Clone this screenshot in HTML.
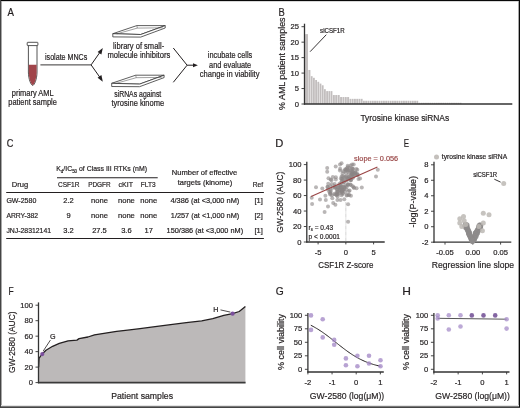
<!DOCTYPE html>
<html><head><meta charset="utf-8"><style>
html,body{margin:0;padding:0;background:#fff;}
body{width:520px;height:408px;overflow:hidden;position:relative;}
svg{position:absolute;left:0;top:0;will-change:transform;}
text{font-family:"Liberation Sans", sans-serif;}
</style></head><body>
<svg width="520" height="408" viewBox="0 0 520 408">
<path d="M28.4,45.6 L28.4,72 C28.4,79.5 31.2,85.4 32.7,85.4 C34.2,85.4 37.0,79.5 37.0,72 L37.0,45.6" fill="#fff" stroke="#2a2a2a" stroke-width="0.8"/>
<path d="M28.8,64.7 L28.8,72 C28.8,79.3 31.4,84.9 32.7,84.9 C34.0,84.9 36.6,79.3 36.6,72 L36.6,64.7 Z" fill="#a0444a" stroke="none" stroke-width="0.8"/>
<rect x="27.2" y="42.3" width="10.7" height="3.3" rx="0.6" fill="#fff" stroke="#2a2a2a" stroke-width="0.8"/>
<line x1="40.40" y1="64.90" x2="91.10" y2="64.90" stroke="#231f20" stroke-width="0.9"/>
<line x1="91.10" y1="64.90" x2="100.50" y2="51.50" stroke="#231f20" stroke-width="1.0"/>
<line x1="91.10" y1="64.90" x2="100.50" y2="78.20" stroke="#231f20" stroke-width="1.0"/>
<path d="M102.8,48 L97.6,51.9 L101.4,54.6 Z" fill="#231f20" stroke="none" stroke-width="0.8"/>
<path d="M102.8,81.7 L97.6,77.8 L101.4,75.1 Z" fill="#231f20" stroke="none" stroke-width="0.8"/>
<text x="45.00" y="59.90" font-size="8.4" textLength="42.30" lengthAdjust="spacingAndGlyphs" fill="#231f20" stroke="#231f20" stroke-width="0.2">isolate MNCs</text>
<text x="11.80" y="95.60" font-size="8.4" textLength="41.80" lengthAdjust="spacingAndGlyphs" fill="#231f20" stroke="#231f20" stroke-width="0.2">primary AML</text>
<text x="8.30" y="104.90" font-size="8.4" textLength="48.60" lengthAdjust="spacingAndGlyphs" fill="#231f20" stroke="#231f20" stroke-width="0.2">patient sample</text>
<path d="M112.8,33.7 L136.8,25.6 L165.2,25.6 L140.7,34.5 Z" fill="#fff" stroke="#2a2a2a" stroke-width="0.75"/>
<path d="M112.8,33.7 L112.8,36.900000000000006 L140.7,37.1 L165.2,28.0 L165.2,25.6 L140.7,34.5 Z" fill="#fff" stroke="#2a2a2a" stroke-width="0.75"/>
<path d="M116.7,33.900000000000006 L137.3,28.1 L162.7,27.8" fill="none" stroke="#444" stroke-width="0.5"/>
<line x1="136.80" y1="25.60" x2="137.30" y2="28.10" stroke="#444" stroke-width="0.5"/>
<path d="M111.7,83.3 L135.7,75.2 L164.1,75.2 L139.6,84.1 Z" fill="#fff" stroke="#2a2a2a" stroke-width="0.75"/>
<path d="M111.7,83.3 L111.7,86.5 L139.6,86.7 L164.1,77.60000000000001 L164.1,75.2 L139.6,84.1 Z" fill="#fff" stroke="#2a2a2a" stroke-width="0.75"/>
<path d="M115.60000000000001,83.5 L136.2,77.7 L161.6,77.4" fill="none" stroke="#444" stroke-width="0.5"/>
<line x1="135.70" y1="75.20" x2="136.20" y2="77.70" stroke="#444" stroke-width="0.5"/>
<text x="113.10" y="48.90" font-size="8.4" textLength="51.10" lengthAdjust="spacingAndGlyphs" fill="#231f20" stroke="#231f20" stroke-width="0.2">library of small-</text>
<text x="107.40" y="57.60" font-size="8.4" textLength="62.90" lengthAdjust="spacingAndGlyphs" fill="#231f20" stroke="#231f20" stroke-width="0.2">molecule inhibitors</text>
<text x="114.20" y="96.60" font-size="8.4" textLength="47.10" lengthAdjust="spacingAndGlyphs" fill="#231f20" stroke="#231f20" stroke-width="0.2">siRNAs against</text>
<text x="111.50" y="105.60" font-size="8.4" textLength="52.70" lengthAdjust="spacingAndGlyphs" fill="#231f20" stroke="#231f20" stroke-width="0.2">tyrosine kinome</text>
<line x1="173.30" y1="48.00" x2="187.10" y2="65.20" stroke="#231f20" stroke-width="1.0"/>
<line x1="173.30" y1="82.30" x2="187.10" y2="65.20" stroke="#231f20" stroke-width="1.0"/>
<line x1="187.10" y1="65.20" x2="193.50" y2="65.20" stroke="#231f20" stroke-width="1.0"/>
<path d="M197.9,65.2 L193.0,63.2 L193.0,67.2 Z" fill="#231f20" stroke="none" stroke-width="0.8"/>
<text x="207.80" y="57.80" font-size="8.4" textLength="44.40" lengthAdjust="spacingAndGlyphs" fill="#231f20" stroke="#231f20" stroke-width="0.2">incubate cells</text>
<text x="209.10" y="67.50" font-size="8.4" textLength="42.10" lengthAdjust="spacingAndGlyphs" fill="#231f20" stroke="#231f20" stroke-width="0.2">and evaluate</text>
<text x="199.80" y="77.40" font-size="8.4" textLength="59.70" lengthAdjust="spacingAndGlyphs" fill="#231f20" stroke="#231f20" stroke-width="0.2">change in viability</text>
<line x1="301.50" y1="104.00" x2="304.50" y2="104.00" stroke="#333333" stroke-width="0.9"/>
<text x="298.90" y="106.50" font-size="7.6" text-anchor="end" fill="#231f20" stroke="#231f20" stroke-width="0.2">0</text>
<line x1="301.50" y1="88.54" x2="304.50" y2="88.54" stroke="#333333" stroke-width="0.9"/>
<text x="298.90" y="91.04" font-size="7.6" text-anchor="end" fill="#231f20" stroke="#231f20" stroke-width="0.2">5</text>
<line x1="301.50" y1="73.08" x2="304.50" y2="73.08" stroke="#333333" stroke-width="0.9"/>
<text x="298.90" y="75.58" font-size="7.6" text-anchor="end" fill="#231f20" stroke="#231f20" stroke-width="0.2">10</text>
<line x1="301.50" y1="57.62" x2="304.50" y2="57.62" stroke="#333333" stroke-width="0.9"/>
<text x="298.90" y="60.12" font-size="7.6" text-anchor="end" fill="#231f20" stroke="#231f20" stroke-width="0.2">15</text>
<line x1="301.50" y1="42.16" x2="304.50" y2="42.16" stroke="#333333" stroke-width="0.9"/>
<text x="298.90" y="44.66" font-size="7.6" text-anchor="end" fill="#231f20" stroke="#231f20" stroke-width="0.2">20</text>
<line x1="301.50" y1="26.70" x2="304.50" y2="26.70" stroke="#333333" stroke-width="0.9"/>
<text x="298.90" y="29.20" font-size="7.6" text-anchor="end" fill="#231f20" stroke="#231f20" stroke-width="0.2">25</text>
<rect x="305.20" y="34.12" width="2.80" height="69.88" fill="#c2bebe"/>
<rect x="308.40" y="69.99" width="2.00" height="34.01" fill="#c2bebe"/>
<rect x="310.80" y="76.17" width="1.80" height="27.83" fill="#c2bebe"/>
<rect x="313.00" y="77.81" width="1.80" height="26.19" fill="#c2bebe"/>
<rect x="315.20" y="80.01" width="1.80" height="23.99" fill="#c2bebe"/>
<rect x="317.40" y="81.80" width="1.80" height="22.20" fill="#c2bebe"/>
<rect x="319.60" y="83.59" width="1.80" height="20.41" fill="#c2bebe"/>
<rect x="321.80" y="85.29" width="1.80" height="18.71" fill="#c2bebe"/>
<rect x="324.00" y="89.19" width="1.80" height="14.81" fill="#c2bebe"/>
<rect x="326.20" y="91.11" width="1.80" height="12.89" fill="#c2bebe"/>
<rect x="328.40" y="91.11" width="1.80" height="12.89" fill="#c2bebe"/>
<rect x="330.60" y="91.11" width="1.80" height="12.89" fill="#c2bebe"/>
<rect x="332.80" y="95.03" width="2.03" height="8.97" fill="#c2bebe"/>
<rect x="335.23" y="95.03" width="2.03" height="8.97" fill="#c2bebe"/>
<rect x="337.67" y="95.03" width="2.03" height="8.97" fill="#c2bebe"/>
<rect x="340.10" y="97.04" width="1.95" height="6.96" fill="#c2bebe"/>
<rect x="342.45" y="97.04" width="1.95" height="6.96" fill="#c2bebe"/>
<rect x="344.80" y="97.04" width="1.95" height="6.96" fill="#c2bebe"/>
<rect x="347.15" y="97.04" width="1.95" height="6.96" fill="#c2bebe"/>
<rect x="349.50" y="98.84" width="1.85" height="5.16" fill="#c2bebe"/>
<rect x="351.75" y="98.84" width="1.85" height="5.16" fill="#c2bebe"/>
<rect x="354.00" y="98.84" width="1.85" height="5.16" fill="#c2bebe"/>
<rect x="356.25" y="98.84" width="1.85" height="5.16" fill="#c2bebe"/>
<rect x="358.50" y="98.84" width="1.85" height="5.16" fill="#c2bebe"/>
<rect x="360.75" y="98.84" width="1.85" height="5.16" fill="#c2bebe"/>
<rect x="363.00" y="100.75" width="1.82" height="3.25" fill="#c2bebe"/>
<rect x="365.22" y="100.75" width="1.82" height="3.25" fill="#c2bebe"/>
<rect x="367.45" y="100.75" width="1.82" height="3.25" fill="#c2bebe"/>
<rect x="369.67" y="100.75" width="1.82" height="3.25" fill="#c2bebe"/>
<rect x="371.90" y="100.75" width="1.82" height="3.25" fill="#c2bebe"/>
<rect x="374.12" y="100.75" width="1.82" height="3.25" fill="#c2bebe"/>
<rect x="376.34" y="100.75" width="1.82" height="3.25" fill="#c2bebe"/>
<rect x="378.57" y="100.75" width="1.82" height="3.25" fill="#c2bebe"/>
<rect x="380.79" y="100.75" width="1.82" height="3.25" fill="#c2bebe"/>
<rect x="383.02" y="100.75" width="1.82" height="3.25" fill="#c2bebe"/>
<rect x="385.24" y="100.75" width="1.82" height="3.25" fill="#c2bebe"/>
<rect x="387.46" y="100.75" width="1.82" height="3.25" fill="#c2bebe"/>
<rect x="389.69" y="100.75" width="1.82" height="3.25" fill="#c2bebe"/>
<rect x="391.91" y="100.75" width="1.82" height="3.25" fill="#c2bebe"/>
<rect x="394.14" y="100.75" width="1.82" height="3.25" fill="#c2bebe"/>
<rect x="396.36" y="100.75" width="1.82" height="3.25" fill="#c2bebe"/>
<rect x="398.58" y="100.75" width="1.82" height="3.25" fill="#c2bebe"/>
<rect x="400.81" y="100.75" width="1.82" height="3.25" fill="#c2bebe"/>
<rect x="403.03" y="100.75" width="1.82" height="3.25" fill="#c2bebe"/>
<rect x="405.26" y="100.75" width="1.82" height="3.25" fill="#c2bebe"/>
<rect x="407.48" y="100.75" width="1.82" height="3.25" fill="#c2bebe"/>
<rect x="409.70" y="100.75" width="1.82" height="3.25" fill="#c2bebe"/>
<rect x="411.93" y="100.75" width="1.82" height="3.25" fill="#c2bebe"/>
<rect x="414.15" y="100.75" width="1.82" height="3.25" fill="#c2bebe"/>
<rect x="416.38" y="100.75" width="1.82" height="3.25" fill="#c2bebe"/>
<rect x="418.60" y="102.76" width="1.76" height="1.24" fill="#c2bebe"/>
<rect x="420.76" y="102.76" width="1.76" height="1.24" fill="#c2bebe"/>
<rect x="422.92" y="102.76" width="1.76" height="1.24" fill="#c2bebe"/>
<rect x="425.08" y="102.76" width="1.76" height="1.24" fill="#c2bebe"/>
<rect x="427.24" y="102.76" width="1.76" height="1.24" fill="#c2bebe"/>
<rect x="429.40" y="102.76" width="1.76" height="1.24" fill="#c2bebe"/>
<rect x="431.56" y="102.76" width="1.76" height="1.24" fill="#c2bebe"/>
<rect x="433.72" y="102.76" width="1.76" height="1.24" fill="#c2bebe"/>
<rect x="435.88" y="102.76" width="1.76" height="1.24" fill="#c2bebe"/>
<rect x="438.04" y="102.76" width="1.76" height="1.24" fill="#c2bebe"/>
<rect x="440.20" y="102.76" width="1.76" height="1.24" fill="#c2bebe"/>
<rect x="442.36" y="102.76" width="1.76" height="1.24" fill="#c2bebe"/>
<rect x="444.52" y="102.76" width="1.76" height="1.24" fill="#c2bebe"/>
<rect x="446.68" y="102.76" width="1.76" height="1.24" fill="#c2bebe"/>
<rect x="448.84" y="102.76" width="1.76" height="1.24" fill="#c2bebe"/>
<rect x="451.00" y="102.76" width="1.76" height="1.24" fill="#c2bebe"/>
<rect x="453.16" y="102.76" width="1.76" height="1.24" fill="#c2bebe"/>
<rect x="455.32" y="102.76" width="1.76" height="1.24" fill="#c2bebe"/>
<rect x="457.48" y="102.76" width="1.76" height="1.24" fill="#c2bebe"/>
<rect x="459.64" y="102.76" width="1.80" height="1.24" fill="#c2bebe"/>
<line x1="304.50" y1="23.70" x2="304.50" y2="104.60" stroke="#333333" stroke-width="1.3"/>
<line x1="303.90" y1="104.00" x2="512.30" y2="104.00" stroke="#333333" stroke-width="1.3"/>
<text transform="translate(284.80,63.70) rotate(-90)" x="0" y="0" font-size="9.4" text-anchor="middle" textLength="92.40" lengthAdjust="spacingAndGlyphs" fill="#231f20" stroke="#231f20" stroke-width="0.2">% AML patient samples</text>
<text x="360.40" y="120.50" font-size="9.6" textLength="88.80" lengthAdjust="spacingAndGlyphs" fill="#231f20" stroke="#231f20" stroke-width="0.2">Tyrosine kinase siRNAs</text>
<text x="320.10" y="32.70" font-size="6.3" textLength="24.50" lengthAdjust="spacingAndGlyphs" fill="#231f20" stroke="#231f20" stroke-width="0.2">siCSF1R</text>
<line x1="326.30" y1="34.70" x2="310.10" y2="51.70" stroke="#231f20" stroke-width="0.9"/>
<text x="56.20" y="171.30" font-size="7.5" textLength="90.80" lengthAdjust="spacingAndGlyphs" fill="#231f20" stroke="#231f20" stroke-width="0.2">K<tspan font-size="4.8" dy="1.2">d</tspan><tspan dy="-1.2">/IC</tspan><tspan font-size="4.8" dy="1.2">50</tspan><tspan dy="-1.2"> of Class III RTKs (nM)</tspan></text>
<line x1="57.00" y1="177.80" x2="157.70" y2="177.80" stroke="#231f20" stroke-width="1.1"/>
<text x="11.80" y="187.30" font-size="7.5" textLength="16.40" lengthAdjust="spacingAndGlyphs" fill="#231f20" stroke="#231f20" stroke-width="0.2">Drug</text>
<text x="58.00" y="187.30" font-size="7.5" textLength="21.50" lengthAdjust="spacingAndGlyphs" fill="#231f20" stroke="#231f20" stroke-width="0.2">CSF1R</text>
<text x="88.20" y="187.30" font-size="7.5" textLength="22.50" lengthAdjust="spacingAndGlyphs" fill="#231f20" stroke="#231f20" stroke-width="0.2">PDGFR</text>
<text x="118.60" y="187.30" font-size="7.5" textLength="14.50" lengthAdjust="spacingAndGlyphs" fill="#231f20" stroke="#231f20" stroke-width="0.2">cKIT</text>
<text x="140.80" y="187.30" font-size="7.5" textLength="14.70" lengthAdjust="spacingAndGlyphs" fill="#231f20" stroke="#231f20" stroke-width="0.2">FLT3</text>
<text x="171.80" y="175.40" font-size="7.5" textLength="65.50" lengthAdjust="spacingAndGlyphs" fill="#231f20" stroke="#231f20" stroke-width="0.2">Number of effective</text>
<text x="177.70" y="184.60" font-size="7.5" textLength="54.60" lengthAdjust="spacingAndGlyphs" fill="#231f20" stroke="#231f20" stroke-width="0.2">targets (kinome)</text>
<text x="252.80" y="187.30" font-size="7.5" textLength="10.40" lengthAdjust="spacingAndGlyphs" fill="#231f20" stroke="#231f20" stroke-width="0.2">Ref</text>
<line x1="6.20" y1="192.50" x2="263.90" y2="192.50" stroke="#231f20" stroke-width="1.1"/>
<text x="6.40" y="203.20" font-size="7.5" textLength="29.90" lengthAdjust="spacingAndGlyphs" fill="#231f20" stroke="#231f20" stroke-width="0.2">GW-2580</text>
<text x="68.50" y="203.20" font-size="7.5" text-anchor="middle" fill="#231f20" stroke="#231f20" stroke-width="0.2">2.2</text>
<text x="91.05" y="203.20" font-size="7.5" textLength="16.90" lengthAdjust="spacingAndGlyphs" fill="#231f20" stroke="#231f20" stroke-width="0.2">none</text>
<text x="117.95" y="203.20" font-size="7.5" textLength="16.90" lengthAdjust="spacingAndGlyphs" fill="#231f20" stroke="#231f20" stroke-width="0.2">none</text>
<text x="140.25" y="203.20" font-size="7.5" textLength="16.90" lengthAdjust="spacingAndGlyphs" fill="#231f20" stroke="#231f20" stroke-width="0.2">none</text>
<text x="170.40" y="203.20" font-size="7.5" textLength="68.90" lengthAdjust="spacingAndGlyphs" fill="#231f20" stroke="#231f20" stroke-width="0.2">4/386 (at &lt;3,000 nM)</text>
<text x="258.70" y="203.20" font-size="7.5" text-anchor="middle" fill="#231f20" stroke="#231f20" stroke-width="0.2">[1]</text>
<text x="6.40" y="217.70" font-size="7.5" textLength="31.70" lengthAdjust="spacingAndGlyphs" fill="#231f20" stroke="#231f20" stroke-width="0.2">ARRY-382</text>
<text x="68.50" y="217.70" font-size="7.5" text-anchor="middle" fill="#231f20" stroke="#231f20" stroke-width="0.2">9</text>
<text x="91.05" y="217.70" font-size="7.5" textLength="16.90" lengthAdjust="spacingAndGlyphs" fill="#231f20" stroke="#231f20" stroke-width="0.2">none</text>
<text x="117.95" y="217.70" font-size="7.5" textLength="16.90" lengthAdjust="spacingAndGlyphs" fill="#231f20" stroke="#231f20" stroke-width="0.2">none</text>
<text x="140.25" y="217.70" font-size="7.5" textLength="16.90" lengthAdjust="spacingAndGlyphs" fill="#231f20" stroke="#231f20" stroke-width="0.2">none</text>
<text x="170.80" y="217.70" font-size="7.5" textLength="68.50" lengthAdjust="spacingAndGlyphs" fill="#231f20" stroke="#231f20" stroke-width="0.2">1/257 (at &lt;1,000 nM)</text>
<text x="258.70" y="217.70" font-size="7.5" text-anchor="middle" fill="#231f20" stroke="#231f20" stroke-width="0.2">[2]</text>
<text x="6.40" y="232.90" font-size="7.5" textLength="44.70" lengthAdjust="spacingAndGlyphs" fill="#231f20" stroke="#231f20" stroke-width="0.2">JNJ-28312141</text>
<text x="68.50" y="232.90" font-size="7.5" text-anchor="middle" fill="#231f20" stroke="#231f20" stroke-width="0.2">3.2</text>
<text x="99.50" y="232.90" font-size="7.5" text-anchor="middle" fill="#231f20" stroke="#231f20" stroke-width="0.2">27.5</text>
<text x="126.40" y="232.90" font-size="7.5" text-anchor="middle" fill="#231f20" stroke="#231f20" stroke-width="0.2">3.6</text>
<text x="148.70" y="232.90" font-size="7.5" text-anchor="middle" fill="#231f20" stroke="#231f20" stroke-width="0.2">17</text>
<text x="166.60" y="232.90" font-size="7.5" textLength="76.50" lengthAdjust="spacingAndGlyphs" fill="#231f20" stroke="#231f20" stroke-width="0.2">150/386 (at &lt;3,000 nM)</text>
<text x="258.70" y="232.90" font-size="7.5" text-anchor="middle" fill="#231f20" stroke="#231f20" stroke-width="0.2">[1]</text>
<line x1="6.20" y1="238.50" x2="263.90" y2="238.50" stroke="#231f20" stroke-width="1.1"/>
<line x1="306.80" y1="161.70" x2="306.80" y2="242.50" stroke="#333333" stroke-width="1.3"/>
<line x1="306.20" y1="242.00" x2="384.70" y2="242.00" stroke="#333333" stroke-width="1.3"/>
<line x1="303.80" y1="242.00" x2="306.80" y2="242.00" stroke="#333333" stroke-width="0.9"/>
<text x="301.40" y="244.60" font-size="7.6" text-anchor="end" fill="#231f20" stroke="#231f20" stroke-width="0.2">0</text>
<line x1="303.80" y1="226.52" x2="306.80" y2="226.52" stroke="#333333" stroke-width="0.9"/>
<text x="301.40" y="229.12" font-size="7.6" text-anchor="end" fill="#231f20" stroke="#231f20" stroke-width="0.2">20</text>
<line x1="303.80" y1="211.04" x2="306.80" y2="211.04" stroke="#333333" stroke-width="0.9"/>
<text x="301.40" y="213.64" font-size="7.6" text-anchor="end" fill="#231f20" stroke="#231f20" stroke-width="0.2">40</text>
<line x1="303.80" y1="195.56" x2="306.80" y2="195.56" stroke="#333333" stroke-width="0.9"/>
<text x="301.40" y="198.16" font-size="7.6" text-anchor="end" fill="#231f20" stroke="#231f20" stroke-width="0.2">60</text>
<line x1="303.80" y1="180.08" x2="306.80" y2="180.08" stroke="#333333" stroke-width="0.9"/>
<text x="301.40" y="182.68" font-size="7.6" text-anchor="end" fill="#231f20" stroke="#231f20" stroke-width="0.2">80</text>
<line x1="303.80" y1="164.60" x2="306.80" y2="164.60" stroke="#333333" stroke-width="0.9"/>
<text x="301.40" y="167.20" font-size="7.6" text-anchor="end" fill="#231f20" stroke="#231f20" stroke-width="0.2">100</text>
<line x1="318.10" y1="242.00" x2="318.10" y2="244.40" stroke="#333333" stroke-width="0.9"/>
<text x="318.10" y="254.90" font-size="7.6" text-anchor="middle" fill="#231f20" stroke="#231f20" stroke-width="0.2">-5</text>
<line x1="345.85" y1="242.00" x2="345.85" y2="244.40" stroke="#333333" stroke-width="0.9"/>
<text x="345.85" y="254.90" font-size="7.6" text-anchor="middle" fill="#231f20" stroke="#231f20" stroke-width="0.2">0</text>
<line x1="373.60" y1="242.00" x2="373.60" y2="244.40" stroke="#333333" stroke-width="0.9"/>
<text x="373.60" y="254.90" font-size="7.6" text-anchor="middle" fill="#231f20" stroke="#231f20" stroke-width="0.2">5</text>
<line x1="345.85" y1="202.00" x2="345.85" y2="242.00" stroke="#999" stroke-width="0.7" stroke-dasharray="0.6,0.6"/>
<circle cx="311.70" cy="197.80" r="2.0" fill="#8a8686" fill-opacity="0.6"/>
<circle cx="312.10" cy="204.00" r="2.0" fill="#8a8686" fill-opacity="0.6"/>
<circle cx="316.00" cy="187.20" r="2.0" fill="#8a8686" fill-opacity="0.6"/>
<circle cx="320.00" cy="199.50" r="2.0" fill="#8a8686" fill-opacity="0.6"/>
<circle cx="322.30" cy="188.50" r="2.0" fill="#8a8686" fill-opacity="0.6"/>
<circle cx="324.60" cy="212.00" r="2.0" fill="#8a8686" fill-opacity="0.6"/>
<circle cx="325.40" cy="195.70" r="2.0" fill="#8a8686" fill-opacity="0.6"/>
<circle cx="325.80" cy="200.00" r="2.0" fill="#8a8686" fill-opacity="0.6"/>
<circle cx="328.00" cy="206.40" r="2.0" fill="#8a8686" fill-opacity="0.6"/>
<circle cx="327.20" cy="168.00" r="2.0" fill="#8a8686" fill-opacity="0.6"/>
<circle cx="327.20" cy="171.70" r="2.0" fill="#8a8686" fill-opacity="0.6"/>
<circle cx="328.50" cy="178.20" r="2.0" fill="#8a8686" fill-opacity="0.6"/>
<circle cx="332.30" cy="198.30" r="2.0" fill="#8a8686" fill-opacity="0.6"/>
<circle cx="333.20" cy="203.00" r="2.0" fill="#8a8686" fill-opacity="0.6"/>
<circle cx="335.40" cy="204.70" r="2.0" fill="#8a8686" fill-opacity="0.6"/>
<circle cx="335.70" cy="166.60" r="2.0" fill="#8a8686" fill-opacity="0.6"/>
<circle cx="340.00" cy="164.50" r="2.0" fill="#8a8686" fill-opacity="0.6"/>
<circle cx="337.40" cy="200.00" r="2.0" fill="#8a8686" fill-opacity="0.6"/>
<circle cx="340.50" cy="200.00" r="2.0" fill="#8a8686" fill-opacity="0.6"/>
<circle cx="344.30" cy="199.20" r="2.0" fill="#8a8686" fill-opacity="0.6"/>
<circle cx="348.10" cy="204.30" r="2.0" fill="#8a8686" fill-opacity="0.6"/>
<circle cx="348.10" cy="221.80" r="2.0" fill="#8a8686" fill-opacity="0.6"/>
<circle cx="349.10" cy="194.90" r="2.0" fill="#8a8686" fill-opacity="0.6"/>
<circle cx="353.70" cy="164.50" r="2.0" fill="#8a8686" fill-opacity="0.6"/>
<circle cx="356.30" cy="169.10" r="2.0" fill="#8a8686" fill-opacity="0.6"/>
<circle cx="360.10" cy="178.60" r="2.0" fill="#8a8686" fill-opacity="0.6"/>
<circle cx="361.80" cy="187.50" r="2.0" fill="#8a8686" fill-opacity="0.6"/>
<circle cx="377.80" cy="169.70" r="2.0" fill="#8a8686" fill-opacity="0.6"/>
<circle cx="376.00" cy="176.50" r="2.0" fill="#8a8686" fill-opacity="0.6"/>
<circle cx="353.70" cy="187.20" r="2.0" fill="#8a8686" fill-opacity="0.6"/>
<circle cx="348.72" cy="174.56" r="2.0" fill="#8a8686" fill-opacity="0.6"/>
<circle cx="348.87" cy="170.42" r="2.0" fill="#8a8686" fill-opacity="0.6"/>
<circle cx="345.35" cy="170.93" r="2.0" fill="#8a8686" fill-opacity="0.6"/>
<circle cx="355.56" cy="174.12" r="2.0" fill="#8a8686" fill-opacity="0.6"/>
<circle cx="355.18" cy="173.24" r="2.0" fill="#8a8686" fill-opacity="0.6"/>
<circle cx="351.97" cy="172.93" r="2.0" fill="#8a8686" fill-opacity="0.6"/>
<circle cx="341.67" cy="176.28" r="2.0" fill="#8a8686" fill-opacity="0.6"/>
<circle cx="352.53" cy="174.49" r="2.0" fill="#8a8686" fill-opacity="0.6"/>
<circle cx="341.54" cy="163.28" r="2.0" fill="#8a8686" fill-opacity="0.6"/>
<circle cx="345.55" cy="169.66" r="2.0" fill="#8a8686" fill-opacity="0.6"/>
<circle cx="351.53" cy="171.77" r="2.0" fill="#8a8686" fill-opacity="0.6"/>
<circle cx="352.60" cy="168.79" r="2.0" fill="#8a8686" fill-opacity="0.6"/>
<circle cx="351.54" cy="173.97" r="2.0" fill="#8a8686" fill-opacity="0.6"/>
<circle cx="346.69" cy="180.59" r="2.0" fill="#8a8686" fill-opacity="0.6"/>
<circle cx="352.78" cy="177.99" r="2.0" fill="#8a8686" fill-opacity="0.6"/>
<circle cx="346.90" cy="168.30" r="2.0" fill="#8a8686" fill-opacity="0.6"/>
<circle cx="348.28" cy="171.47" r="2.0" fill="#8a8686" fill-opacity="0.6"/>
<circle cx="353.16" cy="173.24" r="2.0" fill="#8a8686" fill-opacity="0.6"/>
<circle cx="347.76" cy="167.22" r="2.0" fill="#8a8686" fill-opacity="0.6"/>
<circle cx="347.40" cy="178.10" r="2.0" fill="#8a8686" fill-opacity="0.6"/>
<circle cx="345.96" cy="173.22" r="2.0" fill="#8a8686" fill-opacity="0.6"/>
<circle cx="352.13" cy="164.55" r="2.0" fill="#8a8686" fill-opacity="0.6"/>
<circle cx="350.24" cy="178.53" r="2.0" fill="#8a8686" fill-opacity="0.6"/>
<circle cx="339.93" cy="170.39" r="2.0" fill="#8a8686" fill-opacity="0.6"/>
<circle cx="349.47" cy="167.91" r="2.0" fill="#8a8686" fill-opacity="0.6"/>
<circle cx="352.49" cy="171.69" r="2.0" fill="#8a8686" fill-opacity="0.6"/>
<circle cx="342.68" cy="176.14" r="2.0" fill="#8a8686" fill-opacity="0.6"/>
<circle cx="353.35" cy="176.73" r="2.0" fill="#8a8686" fill-opacity="0.6"/>
<circle cx="357.20" cy="173.81" r="2.0" fill="#8a8686" fill-opacity="0.6"/>
<circle cx="350.60" cy="165.50" r="2.0" fill="#8a8686" fill-opacity="0.6"/>
<circle cx="353.08" cy="168.94" r="2.0" fill="#8a8686" fill-opacity="0.6"/>
<circle cx="347.74" cy="165.68" r="2.0" fill="#8a8686" fill-opacity="0.6"/>
<circle cx="345.16" cy="169.34" r="2.0" fill="#8a8686" fill-opacity="0.6"/>
<circle cx="342.71" cy="173.20" r="2.0" fill="#8a8686" fill-opacity="0.6"/>
<circle cx="357.22" cy="174.89" r="2.0" fill="#8a8686" fill-opacity="0.6"/>
<circle cx="351.79" cy="168.32" r="2.0" fill="#8a8686" fill-opacity="0.6"/>
<circle cx="344.40" cy="176.89" r="2.0" fill="#8a8686" fill-opacity="0.6"/>
<circle cx="355.51" cy="172.79" r="2.0" fill="#8a8686" fill-opacity="0.6"/>
<circle cx="351.23" cy="174.17" r="2.0" fill="#8a8686" fill-opacity="0.6"/>
<circle cx="357.97" cy="175.10" r="2.0" fill="#8a8686" fill-opacity="0.6"/>
<circle cx="352.59" cy="174.74" r="2.0" fill="#8a8686" fill-opacity="0.6"/>
<circle cx="342.16" cy="178.41" r="2.0" fill="#8a8686" fill-opacity="0.6"/>
<circle cx="354.78" cy="174.65" r="2.0" fill="#8a8686" fill-opacity="0.6"/>
<circle cx="340.13" cy="168.83" r="2.0" fill="#8a8686" fill-opacity="0.6"/>
<circle cx="349.08" cy="177.10" r="2.0" fill="#8a8686" fill-opacity="0.6"/>
<circle cx="343.44" cy="180.05" r="2.0" fill="#8a8686" fill-opacity="0.6"/>
<circle cx="352.76" cy="171.25" r="2.0" fill="#8a8686" fill-opacity="0.6"/>
<circle cx="351.62" cy="175.25" r="2.0" fill="#8a8686" fill-opacity="0.6"/>
<circle cx="350.60" cy="177.73" r="2.0" fill="#8a8686" fill-opacity="0.6"/>
<circle cx="346.69" cy="169.93" r="2.0" fill="#8a8686" fill-opacity="0.6"/>
<circle cx="355.21" cy="172.13" r="2.0" fill="#8a8686" fill-opacity="0.6"/>
<circle cx="345.60" cy="176.73" r="2.0" fill="#8a8686" fill-opacity="0.6"/>
<circle cx="357.33" cy="169.78" r="2.0" fill="#8a8686" fill-opacity="0.6"/>
<circle cx="343.10" cy="171.33" r="2.0" fill="#8a8686" fill-opacity="0.6"/>
<circle cx="349.25" cy="170.51" r="2.0" fill="#8a8686" fill-opacity="0.6"/>
<circle cx="350.43" cy="179.84" r="2.0" fill="#8a8686" fill-opacity="0.6"/>
<circle cx="349.56" cy="178.39" r="2.0" fill="#8a8686" fill-opacity="0.6"/>
<circle cx="337.28" cy="189.79" r="2.0" fill="#8a8686" fill-opacity="0.6"/>
<circle cx="348.77" cy="191.15" r="2.0" fill="#8a8686" fill-opacity="0.6"/>
<circle cx="344.07" cy="186.85" r="2.0" fill="#8a8686" fill-opacity="0.6"/>
<circle cx="342.91" cy="189.45" r="2.0" fill="#8a8686" fill-opacity="0.6"/>
<circle cx="340.94" cy="187.66" r="2.0" fill="#8a8686" fill-opacity="0.6"/>
<circle cx="345.44" cy="186.01" r="2.0" fill="#8a8686" fill-opacity="0.6"/>
<circle cx="346.58" cy="189.40" r="2.0" fill="#8a8686" fill-opacity="0.6"/>
<circle cx="354.06" cy="187.95" r="2.0" fill="#8a8686" fill-opacity="0.6"/>
<circle cx="339.43" cy="183.76" r="2.0" fill="#8a8686" fill-opacity="0.6"/>
<circle cx="341.92" cy="191.54" r="2.0" fill="#8a8686" fill-opacity="0.6"/>
<circle cx="339.98" cy="188.31" r="2.0" fill="#8a8686" fill-opacity="0.6"/>
<circle cx="335.26" cy="187.46" r="2.0" fill="#8a8686" fill-opacity="0.6"/>
<circle cx="344.39" cy="187.43" r="2.0" fill="#8a8686" fill-opacity="0.6"/>
<circle cx="339.41" cy="189.93" r="2.0" fill="#8a8686" fill-opacity="0.6"/>
<circle cx="343.69" cy="182.87" r="2.0" fill="#8a8686" fill-opacity="0.6"/>
<circle cx="356.58" cy="188.13" r="2.0" fill="#8a8686" fill-opacity="0.6"/>
<circle cx="338.67" cy="185.40" r="2.0" fill="#8a8686" fill-opacity="0.6"/>
<circle cx="340.65" cy="185.62" r="2.0" fill="#8a8686" fill-opacity="0.6"/>
<circle cx="348.05" cy="178.99" r="2.0" fill="#8a8686" fill-opacity="0.6"/>
<circle cx="341.60" cy="191.72" r="2.0" fill="#8a8686" fill-opacity="0.6"/>
<circle cx="347.14" cy="194.95" r="2.0" fill="#8a8686" fill-opacity="0.6"/>
<circle cx="331.79" cy="183.88" r="2.0" fill="#8a8686" fill-opacity="0.6"/>
<circle cx="339.95" cy="189.74" r="2.0" fill="#8a8686" fill-opacity="0.6"/>
<circle cx="348.53" cy="177.31" r="2.0" fill="#8a8686" fill-opacity="0.6"/>
<circle cx="346.10" cy="177.05" r="2.0" fill="#8a8686" fill-opacity="0.6"/>
<circle cx="343.06" cy="193.17" r="2.0" fill="#8a8686" fill-opacity="0.6"/>
<circle cx="341.10" cy="187.15" r="2.0" fill="#8a8686" fill-opacity="0.6"/>
<circle cx="346.78" cy="186.85" r="2.0" fill="#8a8686" fill-opacity="0.6"/>
<circle cx="341.47" cy="195.20" r="2.0" fill="#8a8686" fill-opacity="0.6"/>
<circle cx="348.29" cy="184.24" r="2.0" fill="#8a8686" fill-opacity="0.6"/>
<circle cx="358.47" cy="179.12" r="2.0" fill="#8a8686" fill-opacity="0.6"/>
<circle cx="347.49" cy="184.41" r="2.0" fill="#8a8686" fill-opacity="0.6"/>
<circle cx="342.79" cy="190.23" r="2.0" fill="#8a8686" fill-opacity="0.6"/>
<circle cx="343.33" cy="189.83" r="2.0" fill="#8a8686" fill-opacity="0.6"/>
<circle cx="332.84" cy="176.94" r="2.0" fill="#8a8686" fill-opacity="0.6"/>
<circle cx="345.69" cy="180.22" r="2.0" fill="#8a8686" fill-opacity="0.6"/>
<circle cx="335.84" cy="177.18" r="2.0" fill="#8a8686" fill-opacity="0.6"/>
<circle cx="349.60" cy="190.48" r="2.0" fill="#8a8686" fill-opacity="0.6"/>
<circle cx="350.84" cy="180.37" r="2.0" fill="#8a8686" fill-opacity="0.6"/>
<circle cx="342.01" cy="179.16" r="2.0" fill="#8a8686" fill-opacity="0.6"/>
<circle cx="346.60" cy="195.54" r="2.0" fill="#8a8686" fill-opacity="0.6"/>
<circle cx="336.66" cy="195.36" r="2.0" fill="#8a8686" fill-opacity="0.6"/>
<circle cx="347.93" cy="184.93" r="2.0" fill="#8a8686" fill-opacity="0.6"/>
<circle cx="330.17" cy="194.44" r="2.0" fill="#8a8686" fill-opacity="0.6"/>
<circle cx="341.42" cy="182.38" r="2.0" fill="#8a8686" fill-opacity="0.6"/>
<circle cx="344.40" cy="188.46" r="2.0" fill="#8a8686" fill-opacity="0.6"/>
<circle cx="350.99" cy="179.88" r="2.0" fill="#8a8686" fill-opacity="0.6"/>
<circle cx="348.82" cy="194.92" r="2.0" fill="#8a8686" fill-opacity="0.6"/>
<circle cx="350.71" cy="184.92" r="2.0" fill="#8a8686" fill-opacity="0.6"/>
<circle cx="337.54" cy="192.11" r="2.0" fill="#8a8686" fill-opacity="0.6"/>
<circle cx="342.69" cy="186.75" r="2.0" fill="#8a8686" fill-opacity="0.6"/>
<circle cx="350.55" cy="184.42" r="2.0" fill="#8a8686" fill-opacity="0.6"/>
<circle cx="328.22" cy="183.68" r="2.0" fill="#8a8686" fill-opacity="0.6"/>
<circle cx="330.88" cy="190.91" r="2.0" fill="#8a8686" fill-opacity="0.6"/>
<circle cx="343.90" cy="182.33" r="2.0" fill="#8a8686" fill-opacity="0.6"/>
<circle cx="341.94" cy="191.00" r="2.0" fill="#8a8686" fill-opacity="0.6"/>
<circle cx="342.47" cy="193.96" r="2.0" fill="#8a8686" fill-opacity="0.6"/>
<circle cx="341.63" cy="192.24" r="2.0" fill="#8a8686" fill-opacity="0.6"/>
<circle cx="350.95" cy="195.66" r="2.0" fill="#8a8686" fill-opacity="0.6"/>
<circle cx="337.97" cy="191.28" r="2.0" fill="#8a8686" fill-opacity="0.6"/>
<circle cx="330.74" cy="179.50" r="2.0" fill="#8a8686" fill-opacity="0.6"/>
<circle cx="330.22" cy="192.41" r="2.0" fill="#8a8686" fill-opacity="0.6"/>
<circle cx="334.61" cy="185.92" r="2.0" fill="#8a8686" fill-opacity="0.6"/>
<circle cx="340.85" cy="185.83" r="2.0" fill="#8a8686" fill-opacity="0.6"/>
<circle cx="338.45" cy="187.40" r="2.0" fill="#8a8686" fill-opacity="0.6"/>
<circle cx="352.75" cy="186.27" r="2.0" fill="#8a8686" fill-opacity="0.6"/>
<circle cx="345.19" cy="192.00" r="2.0" fill="#8a8686" fill-opacity="0.6"/>
<circle cx="340.81" cy="178.44" r="2.0" fill="#8a8686" fill-opacity="0.6"/>
<circle cx="331.78" cy="195.37" r="2.0" fill="#8a8686" fill-opacity="0.6"/>
<circle cx="327.42" cy="187.01" r="2.0" fill="#8a8686" fill-opacity="0.6"/>
<circle cx="338.03" cy="193.96" r="2.0" fill="#8a8686" fill-opacity="0.6"/>
<circle cx="334.03" cy="194.03" r="2.0" fill="#8a8686" fill-opacity="0.6"/>
<circle cx="334.66" cy="184.11" r="2.0" fill="#8a8686" fill-opacity="0.6"/>
<circle cx="327.74" cy="186.81" r="2.0" fill="#8a8686" fill-opacity="0.6"/>
<circle cx="337.69" cy="187.17" r="2.0" fill="#8a8686" fill-opacity="0.6"/>
<circle cx="330.39" cy="186.15" r="2.0" fill="#8a8686" fill-opacity="0.6"/>
<circle cx="327.87" cy="189.41" r="2.0" fill="#8a8686" fill-opacity="0.6"/>
<circle cx="329.28" cy="191.82" r="2.0" fill="#8a8686" fill-opacity="0.6"/>
<circle cx="331.43" cy="180.29" r="2.0" fill="#8a8686" fill-opacity="0.6"/>
<circle cx="336.90" cy="188.62" r="2.0" fill="#8a8686" fill-opacity="0.6"/>
<circle cx="335.16" cy="187.71" r="2.0" fill="#8a8686" fill-opacity="0.6"/>
<circle cx="337.12" cy="193.74" r="2.0" fill="#8a8686" fill-opacity="0.6"/>
<circle cx="336.66" cy="191.63" r="2.0" fill="#8a8686" fill-opacity="0.6"/>
<circle cx="339.33" cy="193.30" r="2.0" fill="#8a8686" fill-opacity="0.6"/>
<circle cx="335.80" cy="179.58" r="2.0" fill="#8a8686" fill-opacity="0.6"/>
<circle cx="337.59" cy="196.55" r="2.0" fill="#8a8686" fill-opacity="0.6"/>
<circle cx="332.81" cy="187.65" r="2.0" fill="#8a8686" fill-opacity="0.6"/>
<circle cx="341.76" cy="181.21" r="2.0" fill="#8a8686" fill-opacity="0.6"/>
<circle cx="330.29" cy="193.45" r="2.0" fill="#8a8686" fill-opacity="0.6"/>
<circle cx="341.55" cy="189.40" r="2.0" fill="#8a8686" fill-opacity="0.6"/>
<circle cx="336.24" cy="194.51" r="2.0" fill="#8a8686" fill-opacity="0.6"/>
<circle cx="330.38" cy="189.55" r="2.0" fill="#8a8686" fill-opacity="0.6"/>
<circle cx="335.17" cy="194.13" r="2.0" fill="#8a8686" fill-opacity="0.6"/>
<line x1="311.10" y1="196.40" x2="377.40" y2="167.10" stroke="#9a4444" stroke-width="1.1"/>
<text x="354.10" y="160.70" font-size="7.2" textLength="44.00" lengthAdjust="spacingAndGlyphs" fill="#9a4848" stroke="#9a4848" stroke-width="0.2">slope = 0.056</text>
<text x="308.60" y="230.00" font-size="7.2" textLength="24.60" lengthAdjust="spacingAndGlyphs" fill="#231f20" stroke="#231f20" stroke-width="0.2">r<tspan font-size="4.5" dy="1.3">s</tspan><tspan dy="-1.3"> = 0.43</tspan></text>
<text x="308.60" y="239.00" font-size="7.2" textLength="31.40" lengthAdjust="spacingAndGlyphs" fill="#231f20" stroke="#231f20" stroke-width="0.2">p &lt; 0.0001</text>
<text transform="translate(283.40,202.20) rotate(-90)" x="0" y="0" font-size="9.5" text-anchor="middle" textLength="61.00" lengthAdjust="spacingAndGlyphs" fill="#231f20" stroke="#231f20" stroke-width="0.2">GW-2580 (AUC)</text>
<text x="318.30" y="267.80" font-size="9.5" textLength="55.00" lengthAdjust="spacingAndGlyphs" fill="#231f20" stroke="#231f20" stroke-width="0.2">CSF1R Z-score</text>
<line x1="434.00" y1="161.70" x2="434.00" y2="242.70" stroke="#333333" stroke-width="1.3"/>
<line x1="433.40" y1="242.20" x2="511.30" y2="242.20" stroke="#333333" stroke-width="1.3"/>
<line x1="431.00" y1="242.20" x2="434.00" y2="242.20" stroke="#333333" stroke-width="0.9"/>
<text x="428.40" y="244.80" font-size="7.6" text-anchor="end" fill="#231f20" stroke="#231f20" stroke-width="0.2">-2</text>
<line x1="431.00" y1="226.72" x2="434.00" y2="226.72" stroke="#333333" stroke-width="0.9"/>
<text x="428.40" y="229.32" font-size="7.6" text-anchor="end" fill="#231f20" stroke="#231f20" stroke-width="0.2">0</text>
<line x1="431.00" y1="211.24" x2="434.00" y2="211.24" stroke="#333333" stroke-width="0.9"/>
<text x="428.40" y="213.84" font-size="7.6" text-anchor="end" fill="#231f20" stroke="#231f20" stroke-width="0.2">2</text>
<line x1="431.00" y1="195.76" x2="434.00" y2="195.76" stroke="#333333" stroke-width="0.9"/>
<text x="428.40" y="198.36" font-size="7.6" text-anchor="end" fill="#231f20" stroke="#231f20" stroke-width="0.2">4</text>
<line x1="431.00" y1="180.28" x2="434.00" y2="180.28" stroke="#333333" stroke-width="0.9"/>
<text x="428.40" y="182.88" font-size="7.6" text-anchor="end" fill="#231f20" stroke="#231f20" stroke-width="0.2">6</text>
<line x1="431.00" y1="164.80" x2="434.00" y2="164.80" stroke="#333333" stroke-width="0.9"/>
<text x="428.40" y="167.40" font-size="7.6" text-anchor="end" fill="#231f20" stroke="#231f20" stroke-width="0.2">8</text>
<line x1="445.00" y1="242.20" x2="445.00" y2="244.60" stroke="#333333" stroke-width="0.9"/>
<text x="445.00" y="254.90" font-size="7.6" text-anchor="middle" fill="#231f20" stroke="#231f20" stroke-width="0.2">-0.05</text>
<line x1="472.80" y1="242.20" x2="472.80" y2="244.60" stroke="#333333" stroke-width="0.9"/>
<text x="472.80" y="254.90" font-size="7.6" text-anchor="middle" fill="#231f20" stroke="#231f20" stroke-width="0.2">0.00</text>
<line x1="500.60" y1="242.20" x2="500.60" y2="244.60" stroke="#333333" stroke-width="0.9"/>
<text x="500.60" y="254.90" font-size="7.6" text-anchor="middle" fill="#231f20" stroke="#231f20" stroke-width="0.2">0.05</text>
<circle cx="436.50" cy="156.90" r="2.5" fill="#c4c0bc"/>
<text x="441.80" y="158.60" font-size="6.8" textLength="65.30" lengthAdjust="spacingAndGlyphs" fill="#231f20" stroke="#231f20" stroke-width="0.2">tyrosine kinase siRNA</text>
<circle cx="465.18" cy="223.94" r="2.3" fill="#8e8c8c" fill-opacity="0.85"/>
<circle cx="479.49" cy="224.89" r="2.3" fill="#8e8c8c" fill-opacity="0.85"/>
<circle cx="465.93" cy="224.28" r="2.3" fill="#8e8c8c" fill-opacity="0.85"/>
<circle cx="479.49" cy="224.99" r="2.3" fill="#8e8c8c" fill-opacity="0.85"/>
<circle cx="467.28" cy="224.85" r="2.3" fill="#8e8c8c" fill-opacity="0.85"/>
<circle cx="480.42" cy="224.70" r="2.3" fill="#8e8c8c" fill-opacity="0.85"/>
<circle cx="465.95" cy="224.91" r="2.3" fill="#8e8c8c" fill-opacity="0.85"/>
<circle cx="481.04" cy="225.85" r="2.3" fill="#8e8c8c" fill-opacity="0.85"/>
<circle cx="465.58" cy="225.17" r="2.3" fill="#8e8c8c" fill-opacity="0.85"/>
<circle cx="478.39" cy="226.27" r="2.3" fill="#8e8c8c" fill-opacity="0.85"/>
<circle cx="465.96" cy="225.06" r="2.3" fill="#8e8c8c" fill-opacity="0.85"/>
<circle cx="480.57" cy="226.74" r="2.3" fill="#8e8c8c" fill-opacity="0.85"/>
<circle cx="464.85" cy="225.32" r="2.3" fill="#8e8c8c" fill-opacity="0.85"/>
<circle cx="479.73" cy="226.49" r="2.3" fill="#8e8c8c" fill-opacity="0.85"/>
<circle cx="465.66" cy="225.48" r="2.3" fill="#8e8c8c" fill-opacity="0.85"/>
<circle cx="480.90" cy="226.99" r="2.3" fill="#8e8c8c" fill-opacity="0.85"/>
<circle cx="465.21" cy="225.63" r="2.3" fill="#8e8c8c" fill-opacity="0.85"/>
<circle cx="480.50" cy="227.21" r="2.3" fill="#8e8c8c" fill-opacity="0.85"/>
<circle cx="467.43" cy="226.53" r="2.3" fill="#8e8c8c" fill-opacity="0.85"/>
<circle cx="478.59" cy="227.23" r="2.3" fill="#8e8c8c" fill-opacity="0.85"/>
<circle cx="464.75" cy="226.31" r="2.3" fill="#8e8c8c" fill-opacity="0.85"/>
<circle cx="479.04" cy="227.55" r="2.3" fill="#8e8c8c" fill-opacity="0.85"/>
<circle cx="465.85" cy="226.75" r="2.3" fill="#8e8c8c" fill-opacity="0.85"/>
<circle cx="479.29" cy="227.74" r="2.3" fill="#8e8c8c" fill-opacity="0.85"/>
<circle cx="466.92" cy="227.11" r="2.3" fill="#8e8c8c" fill-opacity="0.85"/>
<circle cx="478.63" cy="228.11" r="2.3" fill="#8e8c8c" fill-opacity="0.85"/>
<circle cx="466.61" cy="227.05" r="2.3" fill="#8e8c8c" fill-opacity="0.85"/>
<circle cx="478.31" cy="228.11" r="2.3" fill="#8e8c8c" fill-opacity="0.85"/>
<circle cx="466.60" cy="227.60" r="2.3" fill="#8e8c8c" fill-opacity="0.85"/>
<circle cx="478.64" cy="228.40" r="2.3" fill="#8e8c8c" fill-opacity="0.85"/>
<circle cx="466.69" cy="227.43" r="2.3" fill="#8e8c8c" fill-opacity="0.85"/>
<circle cx="478.82" cy="228.90" r="2.3" fill="#8e8c8c" fill-opacity="0.85"/>
<circle cx="467.20" cy="228.00" r="2.3" fill="#8e8c8c" fill-opacity="0.85"/>
<circle cx="478.73" cy="228.54" r="2.3" fill="#8e8c8c" fill-opacity="0.85"/>
<circle cx="465.67" cy="228.33" r="2.3" fill="#8e8c8c" fill-opacity="0.85"/>
<circle cx="477.65" cy="229.29" r="2.3" fill="#8e8c8c" fill-opacity="0.85"/>
<circle cx="466.35" cy="227.78" r="2.3" fill="#8e8c8c" fill-opacity="0.85"/>
<circle cx="477.46" cy="229.78" r="2.3" fill="#8e8c8c" fill-opacity="0.85"/>
<circle cx="466.94" cy="228.41" r="2.3" fill="#8e8c8c" fill-opacity="0.85"/>
<circle cx="477.55" cy="229.70" r="2.3" fill="#8e8c8c" fill-opacity="0.85"/>
<circle cx="467.66" cy="229.13" r="2.3" fill="#8e8c8c" fill-opacity="0.85"/>
<circle cx="479.01" cy="229.99" r="2.3" fill="#8e8c8c" fill-opacity="0.85"/>
<circle cx="467.41" cy="229.51" r="2.3" fill="#8e8c8c" fill-opacity="0.85"/>
<circle cx="479.01" cy="230.31" r="2.3" fill="#8e8c8c" fill-opacity="0.85"/>
<circle cx="468.24" cy="229.25" r="2.3" fill="#8e8c8c" fill-opacity="0.85"/>
<circle cx="477.64" cy="230.48" r="2.3" fill="#8e8c8c" fill-opacity="0.85"/>
<circle cx="467.43" cy="230.15" r="2.3" fill="#8e8c8c" fill-opacity="0.85"/>
<circle cx="478.05" cy="230.77" r="2.3" fill="#8e8c8c" fill-opacity="0.85"/>
<circle cx="467.59" cy="230.85" r="2.3" fill="#8e8c8c" fill-opacity="0.85"/>
<circle cx="478.39" cy="230.67" r="2.3" fill="#8e8c8c" fill-opacity="0.85"/>
<circle cx="467.91" cy="231.12" r="2.3" fill="#8e8c8c" fill-opacity="0.85"/>
<circle cx="477.17" cy="231.24" r="2.3" fill="#8e8c8c" fill-opacity="0.85"/>
<circle cx="468.64" cy="230.60" r="2.3" fill="#8e8c8c" fill-opacity="0.85"/>
<circle cx="476.48" cy="231.27" r="2.3" fill="#8e8c8c" fill-opacity="0.85"/>
<circle cx="468.31" cy="231.19" r="2.3" fill="#8e8c8c" fill-opacity="0.85"/>
<circle cx="477.73" cy="231.46" r="2.3" fill="#8e8c8c" fill-opacity="0.85"/>
<circle cx="468.76" cy="231.26" r="2.3" fill="#8e8c8c" fill-opacity="0.85"/>
<circle cx="477.22" cy="231.71" r="2.3" fill="#8e8c8c" fill-opacity="0.85"/>
<circle cx="468.10" cy="231.56" r="2.3" fill="#8e8c8c" fill-opacity="0.85"/>
<circle cx="476.23" cy="231.75" r="2.3" fill="#8e8c8c" fill-opacity="0.85"/>
<circle cx="468.38" cy="231.17" r="2.3" fill="#8e8c8c" fill-opacity="0.85"/>
<circle cx="476.55" cy="231.57" r="2.3" fill="#8e8c8c" fill-opacity="0.85"/>
<circle cx="468.00" cy="232.03" r="2.3" fill="#8e8c8c" fill-opacity="0.85"/>
<circle cx="477.14" cy="232.40" r="2.3" fill="#8e8c8c" fill-opacity="0.85"/>
<circle cx="468.42" cy="231.69" r="2.3" fill="#8e8c8c" fill-opacity="0.85"/>
<circle cx="477.91" cy="232.81" r="2.3" fill="#8e8c8c" fill-opacity="0.85"/>
<circle cx="469.46" cy="232.10" r="2.3" fill="#8e8c8c" fill-opacity="0.85"/>
<circle cx="476.39" cy="232.35" r="2.3" fill="#8e8c8c" fill-opacity="0.85"/>
<circle cx="469.34" cy="232.90" r="2.3" fill="#8e8c8c" fill-opacity="0.85"/>
<circle cx="475.08" cy="233.11" r="2.3" fill="#8e8c8c" fill-opacity="0.85"/>
<circle cx="469.34" cy="232.35" r="2.3" fill="#8e8c8c" fill-opacity="0.85"/>
<circle cx="475.02" cy="233.05" r="2.3" fill="#8e8c8c" fill-opacity="0.85"/>
<circle cx="468.57" cy="232.71" r="2.3" fill="#8e8c8c" fill-opacity="0.85"/>
<circle cx="476.20" cy="233.68" r="2.3" fill="#8e8c8c" fill-opacity="0.85"/>
<circle cx="469.56" cy="233.59" r="2.3" fill="#8e8c8c" fill-opacity="0.85"/>
<circle cx="477.12" cy="234.20" r="2.3" fill="#8e8c8c" fill-opacity="0.85"/>
<circle cx="468.30" cy="233.49" r="2.3" fill="#8e8c8c" fill-opacity="0.85"/>
<circle cx="475.22" cy="233.76" r="2.3" fill="#8e8c8c" fill-opacity="0.85"/>
<circle cx="469.27" cy="233.89" r="2.3" fill="#8e8c8c" fill-opacity="0.85"/>
<circle cx="476.19" cy="233.85" r="2.3" fill="#8e8c8c" fill-opacity="0.85"/>
<circle cx="468.57" cy="234.14" r="2.3" fill="#8e8c8c" fill-opacity="0.85"/>
<circle cx="475.60" cy="234.47" r="2.3" fill="#8e8c8c" fill-opacity="0.85"/>
<circle cx="469.49" cy="234.17" r="2.3" fill="#8e8c8c" fill-opacity="0.85"/>
<circle cx="476.12" cy="234.91" r="2.3" fill="#8e8c8c" fill-opacity="0.85"/>
<circle cx="469.58" cy="234.45" r="2.3" fill="#8e8c8c" fill-opacity="0.85"/>
<circle cx="475.39" cy="234.23" r="2.3" fill="#8e8c8c" fill-opacity="0.85"/>
<circle cx="469.06" cy="234.92" r="2.3" fill="#8e8c8c" fill-opacity="0.85"/>
<circle cx="474.35" cy="235.34" r="2.3" fill="#8e8c8c" fill-opacity="0.85"/>
<circle cx="469.96" cy="234.75" r="2.3" fill="#8e8c8c" fill-opacity="0.85"/>
<circle cx="475.11" cy="235.43" r="2.3" fill="#8e8c8c" fill-opacity="0.85"/>
<circle cx="470.28" cy="235.60" r="2.3" fill="#8e8c8c" fill-opacity="0.85"/>
<circle cx="475.15" cy="235.51" r="2.3" fill="#8e8c8c" fill-opacity="0.85"/>
<circle cx="469.97" cy="235.65" r="2.3" fill="#8e8c8c" fill-opacity="0.85"/>
<circle cx="475.58" cy="236.09" r="2.3" fill="#8e8c8c" fill-opacity="0.85"/>
<circle cx="469.67" cy="235.51" r="2.3" fill="#8e8c8c" fill-opacity="0.85"/>
<circle cx="474.69" cy="236.02" r="2.3" fill="#8e8c8c" fill-opacity="0.85"/>
<circle cx="469.50" cy="236.14" r="2.3" fill="#8e8c8c" fill-opacity="0.85"/>
<circle cx="474.50" cy="236.51" r="2.3" fill="#8e8c8c" fill-opacity="0.85"/>
<circle cx="470.75" cy="236.30" r="2.3" fill="#8e8c8c" fill-opacity="0.85"/>
<circle cx="476.36" cy="236.62" r="2.3" fill="#8e8c8c" fill-opacity="0.85"/>
<circle cx="471.26" cy="236.72" r="2.3" fill="#8e8c8c" fill-opacity="0.85"/>
<circle cx="475.40" cy="236.24" r="2.3" fill="#8e8c8c" fill-opacity="0.85"/>
<circle cx="470.07" cy="237.01" r="2.3" fill="#8e8c8c" fill-opacity="0.85"/>
<circle cx="474.93" cy="237.90" r="2.3" fill="#8e8c8c" fill-opacity="0.85"/>
<circle cx="470.93" cy="237.57" r="2.3" fill="#8e8c8c" fill-opacity="0.85"/>
<circle cx="474.93" cy="237.72" r="2.3" fill="#8e8c8c" fill-opacity="0.85"/>
<circle cx="471.16" cy="237.40" r="2.3" fill="#8e8c8c" fill-opacity="0.85"/>
<circle cx="474.64" cy="237.35" r="2.3" fill="#8e8c8c" fill-opacity="0.85"/>
<circle cx="471.74" cy="237.39" r="2.3" fill="#8e8c8c" fill-opacity="0.85"/>
<circle cx="474.35" cy="238.55" r="2.3" fill="#8e8c8c" fill-opacity="0.85"/>
<circle cx="470.86" cy="237.96" r="2.3" fill="#8e8c8c" fill-opacity="0.85"/>
<circle cx="474.88" cy="238.16" r="2.3" fill="#8e8c8c" fill-opacity="0.85"/>
<circle cx="470.56" cy="238.28" r="2.3" fill="#8e8c8c" fill-opacity="0.85"/>
<circle cx="474.36" cy="238.60" r="2.3" fill="#8e8c8c" fill-opacity="0.85"/>
<circle cx="470.69" cy="238.98" r="2.3" fill="#8e8c8c" fill-opacity="0.85"/>
<circle cx="475.01" cy="238.64" r="2.3" fill="#8e8c8c" fill-opacity="0.85"/>
<circle cx="471.52" cy="238.58" r="2.3" fill="#8e8c8c" fill-opacity="0.85"/>
<circle cx="474.72" cy="238.66" r="2.3" fill="#8e8c8c" fill-opacity="0.85"/>
<circle cx="471.91" cy="238.82" r="2.3" fill="#8e8c8c" fill-opacity="0.85"/>
<circle cx="473.13" cy="239.32" r="2.3" fill="#8e8c8c" fill-opacity="0.85"/>
<circle cx="472.48" cy="239.21" r="2.3" fill="#8e8c8c" fill-opacity="0.85"/>
<circle cx="473.03" cy="239.59" r="2.3" fill="#8e8c8c" fill-opacity="0.85"/>
<circle cx="471.62" cy="239.56" r="2.3" fill="#8e8c8c" fill-opacity="0.85"/>
<circle cx="474.46" cy="239.93" r="2.3" fill="#8e8c8c" fill-opacity="0.85"/>
<circle cx="471.40" cy="240.41" r="2.3" fill="#8e8c8c" fill-opacity="0.85"/>
<circle cx="473.28" cy="240.06" r="2.3" fill="#8e8c8c" fill-opacity="0.85"/>
<circle cx="471.41" cy="239.96" r="2.3" fill="#8e8c8c" fill-opacity="0.85"/>
<circle cx="471.94" cy="240.60" r="2.3" fill="#8e8c8c" fill-opacity="0.85"/>
<circle cx="472.93" cy="239.87" r="2.3" fill="#8e8c8c" fill-opacity="0.85"/>
<circle cx="472.00" cy="239.82" r="2.3" fill="#8e8c8c" fill-opacity="0.85"/>
<circle cx="472.90" cy="240.35" r="2.3" fill="#8e8c8c" fill-opacity="0.85"/>
<circle cx="472.90" cy="240.45" r="2.3" fill="#8e8c8c" fill-opacity="0.85"/>
<circle cx="472.10" cy="240.41" r="2.3" fill="#8e8c8c" fill-opacity="0.85"/>
<circle cx="472.85" cy="240.35" r="2.3" fill="#8e8c8c" fill-opacity="0.85"/>
<circle cx="472.24" cy="241.09" r="2.3" fill="#8e8c8c" fill-opacity="0.85"/>
<circle cx="473.05" cy="240.95" r="2.3" fill="#8e8c8c" fill-opacity="0.85"/>
<circle cx="471.76" cy="241.29" r="2.3" fill="#8e8c8c" fill-opacity="0.85"/>
<circle cx="472.27" cy="241.73" r="2.3" fill="#8e8c8c" fill-opacity="0.85"/>
<circle cx="473.04" cy="241.47" r="2.3" fill="#8e8c8c" fill-opacity="0.85"/>
<circle cx="472.17" cy="241.29" r="2.3" fill="#8e8c8c" fill-opacity="0.85"/>
<circle cx="483.30" cy="213.30" r="2.5" fill="#bcb8b4" fill-opacity="0.85"/>
<circle cx="489.00" cy="214.80" r="2.5" fill="#bcb8b4" fill-opacity="0.85"/>
<circle cx="483.30" cy="222.90" r="2.5" fill="#bcb8b4" fill-opacity="0.85"/>
<circle cx="463.50" cy="216.60" r="2.5" fill="#bcb8b4" fill-opacity="0.85"/>
<circle cx="459.80" cy="218.70" r="2.5" fill="#bcb8b4" fill-opacity="0.85"/>
<circle cx="459.80" cy="223.10" r="2.5" fill="#bcb8b4" fill-opacity="0.85"/>
<circle cx="464.20" cy="220.70" r="2.5" fill="#bcb8b4" fill-opacity="0.85"/>
<circle cx="461.80" cy="226.60" r="2.5" fill="#bcb8b4" fill-opacity="0.85"/>
<circle cx="465.70" cy="224.60" r="2.5" fill="#bcb8b4" fill-opacity="0.85"/>
<circle cx="478.90" cy="226.60" r="2.5" fill="#bcb8b4" fill-opacity="0.85"/>
<circle cx="482.40" cy="230.70" r="2.5" fill="#bcb8b4" fill-opacity="0.85"/>
<circle cx="503.70" cy="183.50" r="2.5" fill="#bcb8b4" fill-opacity="0.85"/>
<text x="473.20" y="176.70" font-size="6.6" textLength="24.00" lengthAdjust="spacingAndGlyphs" fill="#231f20" stroke="#231f20" stroke-width="0.2">siCSF1R</text>
<line x1="494.30" y1="179.20" x2="500.60" y2="182.10" stroke="#231f20" stroke-width="0.9"/>
<text transform="translate(416.00,201.85) rotate(-90)" x="0" y="0" font-size="9.5" text-anchor="middle" textLength="51.50" lengthAdjust="spacingAndGlyphs" fill="#231f20" stroke="#231f20" stroke-width="0.2">-log(P-value)</text>
<text x="431.80" y="268.00" font-size="9.5" textLength="82.20" lengthAdjust="spacingAndGlyphs" fill="#231f20" stroke="#231f20" stroke-width="0.2">Regression line slope</text>
<path d="M38.6,382.6 L38.6,367.2 L39,358.4 L42.1,354 L46,350.3 L52.6,346.3 L59.3,343.4 L68.1,340.8 L76.9,340.1 L79.1,338.6 L87.9,337 L94.5,334.8 L105.5,333.1 L116.6,331.3 L127.6,330.2 L140,328.7 L153.2,326.9 L168.7,324.9 L186.3,322.7 L201.7,320.9 L212.8,318.7 L223.8,315.4 L232.6,313.7 L239.2,311.5 L245.4,306.6 L245.4,382.6 Z" fill="#bcb9b9" stroke="none" stroke-width="0.8"/>
<path d="M38.6,367.2 L39,358.4 L42.1,354 L46,350.3 L52.6,346.3 L59.3,343.4 L68.1,340.8 L76.9,340.1 L79.1,338.6 L87.9,337 L94.5,334.8 L105.5,333.1 L116.6,331.3 L127.6,330.2 L140,328.7 L153.2,326.9 L168.7,324.9 L186.3,322.7 L201.7,320.9 L212.8,318.7 L223.8,315.4 L232.6,313.7 L239.2,311.5 L245.4,306.6" fill="none" stroke="#231f20" stroke-width="1.3" stroke-linejoin="round"/>
<line x1="38.50" y1="302.40" x2="38.50" y2="383.20" stroke="#333333" stroke-width="1.3"/>
<line x1="37.90" y1="382.60" x2="245.60" y2="382.60" stroke="#3a3a3a" stroke-width="1.6"/>
<line x1="35.50" y1="382.60" x2="38.50" y2="382.60" stroke="#333333" stroke-width="0.9"/>
<text x="33.00" y="385.20" font-size="7.6" text-anchor="end" fill="#231f20" stroke="#231f20" stroke-width="0.2">0</text>
<line x1="35.50" y1="367.12" x2="38.50" y2="367.12" stroke="#333333" stroke-width="0.9"/>
<text x="33.00" y="369.72" font-size="7.6" text-anchor="end" fill="#231f20" stroke="#231f20" stroke-width="0.2">20</text>
<line x1="35.50" y1="351.64" x2="38.50" y2="351.64" stroke="#333333" stroke-width="0.9"/>
<text x="33.00" y="354.24" font-size="7.6" text-anchor="end" fill="#231f20" stroke="#231f20" stroke-width="0.2">40</text>
<line x1="35.50" y1="336.16" x2="38.50" y2="336.16" stroke="#333333" stroke-width="0.9"/>
<text x="33.00" y="338.76" font-size="7.6" text-anchor="end" fill="#231f20" stroke="#231f20" stroke-width="0.2">60</text>
<line x1="35.50" y1="320.68" x2="38.50" y2="320.68" stroke="#333333" stroke-width="0.9"/>
<text x="33.00" y="323.28" font-size="7.6" text-anchor="end" fill="#231f20" stroke="#231f20" stroke-width="0.2">80</text>
<line x1="35.50" y1="305.20" x2="38.50" y2="305.20" stroke="#333333" stroke-width="0.9"/>
<text x="33.00" y="307.80" font-size="7.6" text-anchor="end" fill="#231f20" stroke="#231f20" stroke-width="0.2">100</text>
<circle cx="42.30" cy="354.10" r="2.1" fill="#7b4f9d"/>
<circle cx="232.60" cy="313.70" r="2.1" fill="#7b4f9d"/>
<line x1="50.40" y1="340.10" x2="43.20" y2="351.10" stroke="#231f20" stroke-width="0.8"/>
<text x="50.00" y="339.00" font-size="7.2" fill="#231f20" stroke="#231f20" stroke-width="0.2">G</text>
<line x1="220.50" y1="309.90" x2="230.40" y2="312.10" stroke="#231f20" stroke-width="0.8"/>
<text x="213.30" y="311.50" font-size="7.2" fill="#231f20" stroke="#231f20" stroke-width="0.2">H</text>
<text transform="translate(14.50,342.20) rotate(-90)" x="0" y="0" font-size="9.8" text-anchor="middle" textLength="61.50" lengthAdjust="spacingAndGlyphs" fill="#231f20" stroke="#231f20" stroke-width="0.2">GW-2580 (AUC)</text>
<text x="111.20" y="398.50" font-size="9.6" textLength="61.80" lengthAdjust="spacingAndGlyphs" fill="#231f20" stroke="#231f20" stroke-width="0.2">Patient samples</text>
<line x1="307.90" y1="313.10" x2="307.90" y2="372.50" stroke="#333333" stroke-width="1.3"/>
<line x1="307.30" y1="372.00" x2="383.80" y2="372.00" stroke="#333333" stroke-width="1.3"/>
<line x1="304.90" y1="369.30" x2="307.90" y2="369.30" stroke="#333333" stroke-width="0.9"/>
<text x="302.30" y="371.90" font-size="7.6" text-anchor="end" fill="#231f20" stroke="#231f20" stroke-width="0.2">0</text>
<line x1="304.90" y1="355.80" x2="307.90" y2="355.80" stroke="#333333" stroke-width="0.9"/>
<text x="302.30" y="358.40" font-size="7.6" text-anchor="end" fill="#231f20" stroke="#231f20" stroke-width="0.2">25</text>
<line x1="304.90" y1="342.30" x2="307.90" y2="342.30" stroke="#333333" stroke-width="0.9"/>
<text x="302.30" y="344.90" font-size="7.6" text-anchor="end" fill="#231f20" stroke="#231f20" stroke-width="0.2">50</text>
<line x1="304.90" y1="328.80" x2="307.90" y2="328.80" stroke="#333333" stroke-width="0.9"/>
<text x="302.30" y="331.40" font-size="7.6" text-anchor="end" fill="#231f20" stroke="#231f20" stroke-width="0.2">75</text>
<line x1="304.90" y1="315.30" x2="307.90" y2="315.30" stroke="#333333" stroke-width="0.9"/>
<text x="302.30" y="317.90" font-size="7.6" text-anchor="end" fill="#231f20" stroke="#231f20" stroke-width="0.2">100</text>
<line x1="307.90" y1="372.00" x2="307.90" y2="374.40" stroke="#333333" stroke-width="0.9"/>
<text x="307.90" y="384.90" font-size="7.6" text-anchor="middle" fill="#231f20" stroke="#231f20" stroke-width="0.2">-2</text>
<line x1="332.05" y1="372.00" x2="332.05" y2="374.40" stroke="#333333" stroke-width="0.9"/>
<text x="332.05" y="384.90" font-size="7.6" text-anchor="middle" fill="#231f20" stroke="#231f20" stroke-width="0.2">-1</text>
<line x1="356.20" y1="372.00" x2="356.20" y2="374.40" stroke="#333333" stroke-width="0.9"/>
<text x="356.20" y="384.90" font-size="7.6" text-anchor="middle" fill="#231f20" stroke="#231f20" stroke-width="0.2">0</text>
<line x1="380.35" y1="372.00" x2="380.35" y2="374.40" stroke="#333333" stroke-width="0.9"/>
<text x="380.35" y="384.90" font-size="7.6" text-anchor="middle" fill="#231f20" stroke="#231f20" stroke-width="0.2">1</text>
<path d="M310.80,325.24 L311.96,325.83 L313.12,326.44 L314.28,327.08 L315.43,327.74 L316.59,328.42 L317.75,329.12 L318.91,329.85 L320.07,330.60 L321.23,331.37 L322.39,332.16 L323.55,332.97 L324.71,333.80 L325.87,334.64 L327.03,335.50 L328.19,336.38 L329.35,337.27 L330.50,338.17 L331.66,339.07 L332.82,339.99 L333.98,340.91 L335.14,341.83 L336.30,342.76 L337.46,343.68 L338.62,344.61 L339.78,345.52 L340.94,346.43 L342.10,347.33 L343.26,348.22 L344.41,349.10 L345.57,349.96 L346.73,350.81 L347.89,351.65 L349.05,352.46 L350.21,353.25 L351.37,354.03 L352.53,354.78 L353.69,355.51 L354.85,356.22 L356.01,356.91 L357.17,357.57 L358.33,358.21 L359.48,358.82 L360.64,359.41 L361.80,359.98 L362.96,360.53 L364.12,361.05 L365.28,361.55 L366.44,362.02 L367.60,362.48 L368.76,362.91 L369.92,363.33 L371.08,363.72 L372.24,364.09 L373.39,364.45 L374.55,364.78 L375.71,365.10 L376.87,365.41 L378.03,365.69 L379.19,365.96 L380.35,366.22" fill="none" stroke="#231f20" stroke-width="1.0"/>
<circle cx="311.00" cy="315.40" r="2.3" fill="#a68cc8" fill-opacity="0.8"/>
<circle cx="311.00" cy="329.90" r="2.3" fill="#a68cc8" fill-opacity="0.8"/>
<circle cx="322.70" cy="319.30" r="2.3" fill="#a68cc8" fill-opacity="0.8"/>
<circle cx="322.70" cy="337.40" r="2.3" fill="#a68cc8" fill-opacity="0.8"/>
<circle cx="334.20" cy="339.90" r="2.3" fill="#a68cc8" fill-opacity="0.8"/>
<circle cx="334.20" cy="344.70" r="2.3" fill="#a68cc8" fill-opacity="0.8"/>
<circle cx="345.90" cy="358.40" r="2.3" fill="#a68cc8" fill-opacity="0.8"/>
<circle cx="345.90" cy="365.20" r="2.3" fill="#a68cc8" fill-opacity="0.8"/>
<circle cx="357.40" cy="355.70" r="2.3" fill="#a68cc8" fill-opacity="0.8"/>
<circle cx="357.40" cy="366.30" r="2.3" fill="#a68cc8" fill-opacity="0.8"/>
<circle cx="369.00" cy="355.70" r="2.3" fill="#a68cc8" fill-opacity="0.8"/>
<circle cx="369.00" cy="363.50" r="2.3" fill="#a68cc8" fill-opacity="0.8"/>
<circle cx="380.50" cy="360.20" r="2.3" fill="#a68cc8" fill-opacity="0.8"/>
<circle cx="380.50" cy="366.30" r="2.3" fill="#a68cc8" fill-opacity="0.8"/>
<text transform="translate(283.60,342.00) rotate(-90)" x="0" y="0" font-size="9.8" text-anchor="middle" textLength="56.10" lengthAdjust="spacingAndGlyphs" fill="#231f20" stroke="#231f20" stroke-width="0.2">% cell viability</text>
<text x="309.80" y="398.60" font-size="9.6" textLength="74.40" lengthAdjust="spacingAndGlyphs" fill="#231f20" stroke="#231f20" stroke-width="0.2">GW-2580 (log(μM))</text>
<line x1="433.90" y1="313.10" x2="433.90" y2="372.50" stroke="#333333" stroke-width="1.3"/>
<line x1="433.30" y1="372.00" x2="509.50" y2="372.00" stroke="#333333" stroke-width="1.3"/>
<line x1="430.90" y1="369.30" x2="433.90" y2="369.30" stroke="#333333" stroke-width="0.9"/>
<text x="428.30" y="371.90" font-size="7.6" text-anchor="end" fill="#231f20" stroke="#231f20" stroke-width="0.2">0</text>
<line x1="430.90" y1="355.80" x2="433.90" y2="355.80" stroke="#333333" stroke-width="0.9"/>
<text x="428.30" y="358.40" font-size="7.6" text-anchor="end" fill="#231f20" stroke="#231f20" stroke-width="0.2">25</text>
<line x1="430.90" y1="342.30" x2="433.90" y2="342.30" stroke="#333333" stroke-width="0.9"/>
<text x="428.30" y="344.90" font-size="7.6" text-anchor="end" fill="#231f20" stroke="#231f20" stroke-width="0.2">50</text>
<line x1="430.90" y1="328.80" x2="433.90" y2="328.80" stroke="#333333" stroke-width="0.9"/>
<text x="428.30" y="331.40" font-size="7.6" text-anchor="end" fill="#231f20" stroke="#231f20" stroke-width="0.2">75</text>
<line x1="430.90" y1="315.30" x2="433.90" y2="315.30" stroke="#333333" stroke-width="0.9"/>
<text x="428.30" y="317.90" font-size="7.6" text-anchor="end" fill="#231f20" stroke="#231f20" stroke-width="0.2">100</text>
<line x1="433.90" y1="372.00" x2="433.90" y2="374.40" stroke="#333333" stroke-width="0.9"/>
<text x="433.90" y="384.90" font-size="7.6" text-anchor="middle" fill="#231f20" stroke="#231f20" stroke-width="0.2">-2</text>
<line x1="458.15" y1="372.00" x2="458.15" y2="374.40" stroke="#333333" stroke-width="0.9"/>
<text x="458.15" y="384.90" font-size="7.6" text-anchor="middle" fill="#231f20" stroke="#231f20" stroke-width="0.2">-1</text>
<line x1="482.40" y1="372.00" x2="482.40" y2="374.40" stroke="#333333" stroke-width="0.9"/>
<text x="482.40" y="384.90" font-size="7.6" text-anchor="middle" fill="#231f20" stroke="#231f20" stroke-width="0.2">0</text>
<line x1="506.65" y1="372.00" x2="506.65" y2="374.40" stroke="#333333" stroke-width="0.9"/>
<text x="506.65" y="384.90" font-size="7.6" text-anchor="middle" fill="#231f20" stroke="#231f20" stroke-width="0.2">1</text>
<line x1="437.60" y1="318.30" x2="506.60" y2="319.20" stroke="#555" stroke-width="1.0"/>
<circle cx="437.70" cy="315.30" r="2.3" fill="#a68cc8" fill-opacity="0.75"/>
<circle cx="437.70" cy="318.40" r="2.3" fill="#a68cc8" fill-opacity="0.75"/>
<circle cx="448.80" cy="315.30" r="2.3" fill="#a68cc8" fill-opacity="0.75"/>
<circle cx="448.80" cy="329.50" r="2.3" fill="#a68cc8" fill-opacity="0.75"/>
<circle cx="460.50" cy="315.30" r="2.3" fill="#a68cc8" fill-opacity="0.75"/>
<circle cx="460.50" cy="326.50" r="2.3" fill="#a68cc8" fill-opacity="0.75"/>
<circle cx="506.60" cy="319.30" r="2.3" fill="#a68cc8" fill-opacity="0.75"/>
<circle cx="506.60" cy="328.60" r="2.3" fill="#a68cc8" fill-opacity="0.75"/>
<circle cx="471.80" cy="315.40" r="2.3" fill="#7d5e9e" fill-opacity="0.95"/>
<circle cx="483.50" cy="315.40" r="2.3" fill="#7d5e9e" fill-opacity="0.95"/>
<circle cx="495.20" cy="315.40" r="2.3" fill="#7d5e9e" fill-opacity="0.95"/>
<text transform="translate(409.20,342.00) rotate(-90)" x="0" y="0" font-size="9.8" text-anchor="middle" textLength="56.10" lengthAdjust="spacingAndGlyphs" fill="#231f20" stroke="#231f20" stroke-width="0.2">% cell viability</text>
<text x="435.30" y="398.60" font-size="9.6" textLength="74.60" lengthAdjust="spacingAndGlyphs" fill="#231f20" stroke="#231f20" stroke-width="0.2">GW-2580 (log(μM))</text>
<text x="7.43" y="16.40" font-size="10.8" textLength="6.44" lengthAdjust="spacingAndGlyphs" fill="#231f20" stroke="#231f20" stroke-width="0.2">A</text>
<text x="278.38" y="16.20" font-size="10.8" textLength="6.26" lengthAdjust="spacingAndGlyphs" fill="#231f20" stroke="#231f20" stroke-width="0.2">B</text>
<text x="6.69" y="146.50" font-size="10.8" textLength="6.65" lengthAdjust="spacingAndGlyphs" fill="#231f20" stroke="#231f20" stroke-width="0.2">C</text>
<text x="275.39" y="146.50" font-size="10.8" textLength="8.09" lengthAdjust="spacingAndGlyphs" fill="#231f20" stroke="#231f20" stroke-width="0.2">D</text>
<text x="403.80" y="146.80" font-size="10.8" textLength="5.28" lengthAdjust="spacingAndGlyphs" fill="#231f20" stroke="#231f20" stroke-width="0.2">E</text>
<text x="8.62" y="294.80" font-size="10.8" textLength="5.17" lengthAdjust="spacingAndGlyphs" fill="#231f20" stroke="#231f20" stroke-width="0.2">F</text>
<text x="275.84" y="294.80" font-size="10.8" textLength="7.97" lengthAdjust="spacingAndGlyphs" fill="#231f20" stroke="#231f20" stroke-width="0.2">G</text>
<text x="402.17" y="294.80" font-size="10.8" textLength="8.66" lengthAdjust="spacingAndGlyphs" fill="#231f20" stroke="#231f20" stroke-width="0.2">H</text>
<rect x="0" y="0" width="520" height="1" fill="#080808" shape-rendering="crispEdges"/>
<rect x="1" y="1" width="518" height="1" fill="#d8d8d8" shape-rendering="crispEdges"/>
<rect x="519" y="0" width="1" height="408" fill="#0a0a0a" shape-rendering="crispEdges"/>
<rect x="518" y="1" width="1" height="406" fill="#a8a8a8" shape-rendering="crispEdges"/>
<rect x="0" y="0" width="1" height="408" fill="#444444" shape-rendering="crispEdges"/>
<rect x="1" y="1" width="1" height="405" fill="#a8a8a8" shape-rendering="crispEdges"/>
<rect x="0" y="407" width="520" height="1" fill="#444444" shape-rendering="crispEdges"/>
<rect x="1" y="406" width="518" height="1" fill="#7a7a7a" shape-rendering="crispEdges"/>
<rect x="1" y="405" width="518" height="1" fill="#e4e4e4" shape-rendering="crispEdges"/>
</svg>
</body></html>
